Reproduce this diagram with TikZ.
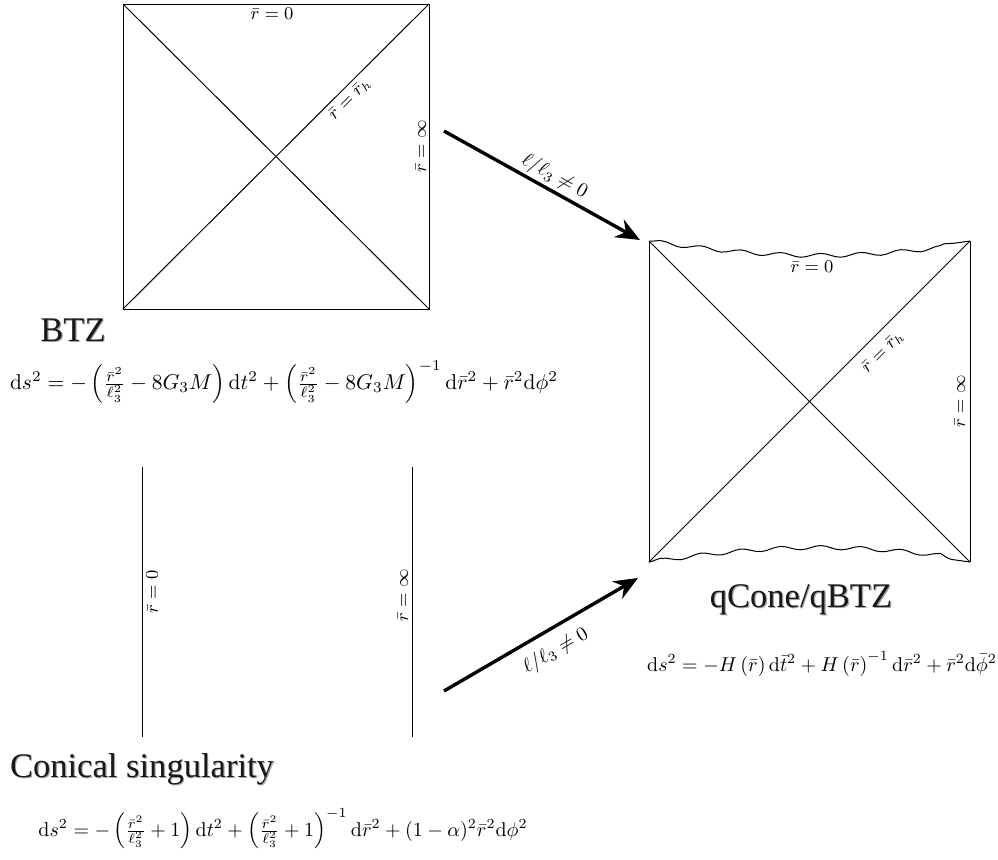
\documentclass[tikz,border=0pt]{standalone}
\usepackage{fontspec}
\usepackage{amsmath}
\newfontfamily\titlefont{Liberation Serif}
\usetikzlibrary{arrows.meta,decorations.pathmorphing}
\newcommand\shtext[1]{\makebox[0pt][l]{\kern0.6pt\raisebox{-0.6pt}{\textcolor{black!35}{#1}}}#1}
\tikzset{
  edge/.style={line width=0.5pt},
  wavy/.style={line width=0.5pt,decorate,decoration={snake,amplitude=1pt,segment length=20pt}},
  bigarrow/.style={line width=1.7pt,-{Stealth[length=12pt,width=10pt]}},
  lbl/.style={inner sep=1pt,font=\fontsize{9}{11}\selectfont},
  albl/.style={inner sep=1pt,font=\fontsize{10}{12}\selectfont},
  title/.style={font=\titlefont\LARGE,text=black!90,inner sep=0pt},
  metric/.style={inner sep=0pt}
}
\begin{document}
\begin{tikzpicture}[x=0.5pt,y=-0.5pt]
\useasboundingbox (0,0) rectangle (998,859);
% BTZ
\coordinate (a1) at (123,4);
\coordinate (a2) at (429,4);
\coordinate (a3) at (429,309);
\coordinate (a4) at (123,309);
\draw[edge] (a1) -- (a2) -- (a3) -- (a4) -- cycle;
\draw[edge] (a1) -- (a3);
\draw[edge] (a4) -- (a2);
\node[lbl] (btzr0) at (272,14) {$\bar r=0$};
\node[lbl,rotate=45] (btzrh) at (350,99) {$\bar r=\bar r_h$};
\node[lbl,rotate=90] (btzri) at (421,146) {$\bar r=\infty$};
\node[title] (btz) at (73,331) {\shtext{BTZ}};
\node[metric,scale=1.075] (btzm) at (284,382) {$\mathrm{d}s^2=-\left(\frac{\bar r^2}{\ell_3^2}-8G_3M\right)\mathrm{d}t^2+\left(\frac{\bar r^2}{\ell_3^2}-8G_3M\right)^{-1}\mathrm{d}\bar r^2+\bar r^2\mathrm{d}\phi^2$};
% qBTZ
\coordinate (b1) at (649,241);
\coordinate (b2) at (970,241);
\coordinate (b3) at (970,562);
\coordinate (b4) at (649,562);
\draw[edge] (b2) -- (b3);
\draw[edge] (b4) -- (b1);
\draw[wavy] (b1) to[bend right=8] (b2);
\draw[wavy] (b4) to[bend left=8] (b3);
\draw[edge] (b1) -- (b3);
\draw[edge] (b4) -- (b2);
\node[lbl] (qr0) at (812,267) {$\bar r=0$};
\node[lbl,rotate=45] (qrh) at (883,352) {$\bar r=\bar r_h$};
\node[lbl,rotate=90] (qri) at (960,401) {$\bar r=\infty$};
\node[title] (qbtz) at (801,600) {\shtext{qCone/qBTZ}};
\node[metric] (qm) at (822,664) {$\mathrm{d}s^2=-H\left(\bar r\right)\mathrm{d}\bar t^2+H\left(\bar r\right)^{-1}\mathrm{d}\bar r^2+\bar r^2\mathrm{d}\bar\phi^2$};
% Conical
\coordinate (c1) at (142,467);
\coordinate (c2) at (142,737);
\coordinate (c3) at (412,467);
\coordinate (c4) at (412,737);
\draw[edge] (c1) -- (c2);
\draw[edge] (c3) -- (c4);
\node[lbl,rotate=90] (cr0) at (152,592) {$\bar r=0$};
\node[lbl,rotate=90] (cri) at (403,595) {$\bar r=\infty$};
\node[title] (con) at (142,770) {\shtext{Conical singularity}};
\node[metric] (conm) at (283,829) {$\mathrm{d}s^2=-\left(\frac{\bar r^2}{\ell_3^2}+1\right)\mathrm{d}t^2+\left(\frac{\bar r^2}{\ell_3^2}+1\right)^{-1}\mathrm{d}\bar r^2+(1-\alpha)^2\bar r^2\mathrm{d}\phi^2$};
% arrows
\coordinate (p1) at (444,131);
\coordinate (p2) at (640,240);
\coordinate (q1) at (444,691);
\coordinate (q2) at (638,578);
\draw[bigarrow] (p1) -- node[albl,above,sloped,pos=0.53] (al1) {$\ell/\ell_3\neq0$} (p2);
\draw[bigarrow] (q1) -- node[albl,below,sloped,pos=0.52,yshift=-4pt] (al2) {$\ell/\ell_3\neq0$} (q2);
\end{tikzpicture}
\end{document}
